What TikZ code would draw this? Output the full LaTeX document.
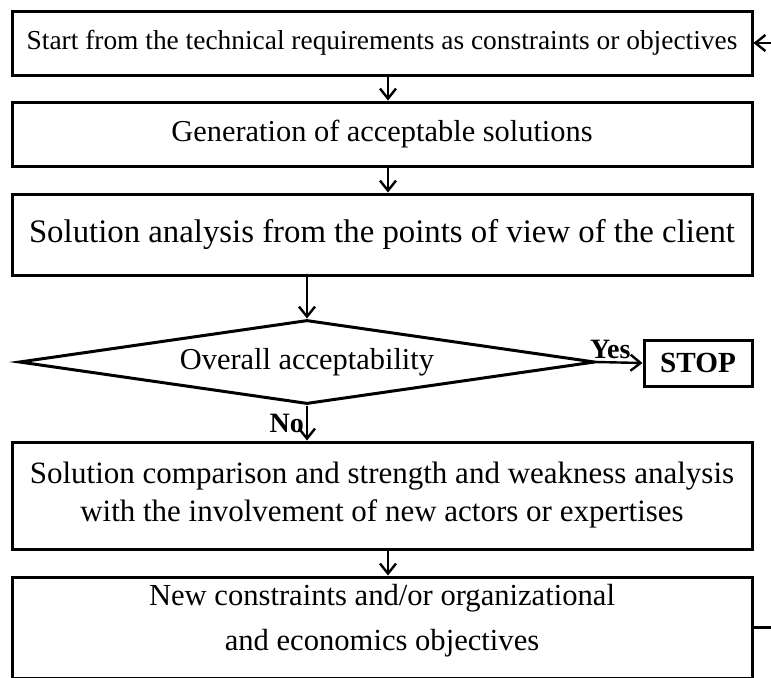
\documentclass[tikz,border=0pt]{standalone}
\usepackage{fontspec}
\setmainfont{Liberation Serif}
\usetikzlibrary{arrows.meta,shapes.geometric}

\begin{document}
\begin{tikzpicture}[x = 0.5pt, y = -0.5pt, > = {Straight Barb[length = 5pt, width = 8pt]},
    box/.style = {draw, line width = 1.5pt, minimum width = 370pt, inner sep = 0pt, align = center},
    flow/.style = {->, line width = 1.2pt},
    answer/.style = {font = \bfseries\fontsize{14}{16}\selectfont, inner sep = 1pt}]
    \useasboundingbox (0,0) rectangle (771,677);
    \clip (0,0) rectangle (771,677);
    \node at (382,43) [box, minimum height = 32pt, font = \fontsize{13.7}{16}\selectfont] (start) {Start from the technical requirements as constraints or objectives};
    \node at (382,134) [box, minimum height = 32pt, font = \fontsize{15.2}{18}\selectfont] (gen) {Generation of acceptable solutions};
    \node at (382,234.5) [box, minimum height = 40.5pt, font = \fontsize{16.4}{19}\selectfont] (analysis) {Solution analysis from the points of view of the client};
    \node at (307,362) [draw, shape = diamond, shape aspect = 7, line width = 1.5pt, minimum width = 288pt, minimum height = 42pt, inner sep = 0pt, font = \fontsize{15.2}{18}\selectfont] (accept) {Overall acceptability};
    \node at (698,363) [draw, line width = 1.5pt, minimum width = 54pt, minimum height = 23pt, inner sep = 0pt, font = \bfseries\fontsize{14.6}{17}\selectfont] (stop) {STOP};
    \node at (382,495.5) [box, minimum height = 53.5pt, font = \fontsize{15.5}{19}\selectfont] (compare) {Solution comparison and strength and weakness analysis\\with the involvement of new actors or expertises};
    \node at (382,627.5) [box, minimum height = 50.5pt, font = \fontsize{15.3}{22.5}\selectfont] (newobj) {New constraints and/or organizational\\and economics objectives\\[-12pt]};
    % main flow
    \draw[flow] ([xshift = 3pt]start.south) -- ([xshift = 3pt]gen.north);
    \draw[flow] ([xshift = 3pt]gen.south) -- ([xshift = 3pt]analysis.north);
    \draw[flow] (analysis.south -| accept.north) -- (accept.north);
    \draw[flow] (accept.east) -- (stop.west) node[pos = 0.3, above, answer] {Yes};
    \draw[flow] (accept.south) -- (accept.south |- compare.north) node[midway, left, answer] {No};
    \draw[flow] ([xshift = 3pt]compare.south) -- ([xshift = 3pt]newobj.north);
    % feedback loop
    \draw[flow] (newobj.east) -- ++(40,0) |- (start.east);
\end{tikzpicture}
\end{document}
